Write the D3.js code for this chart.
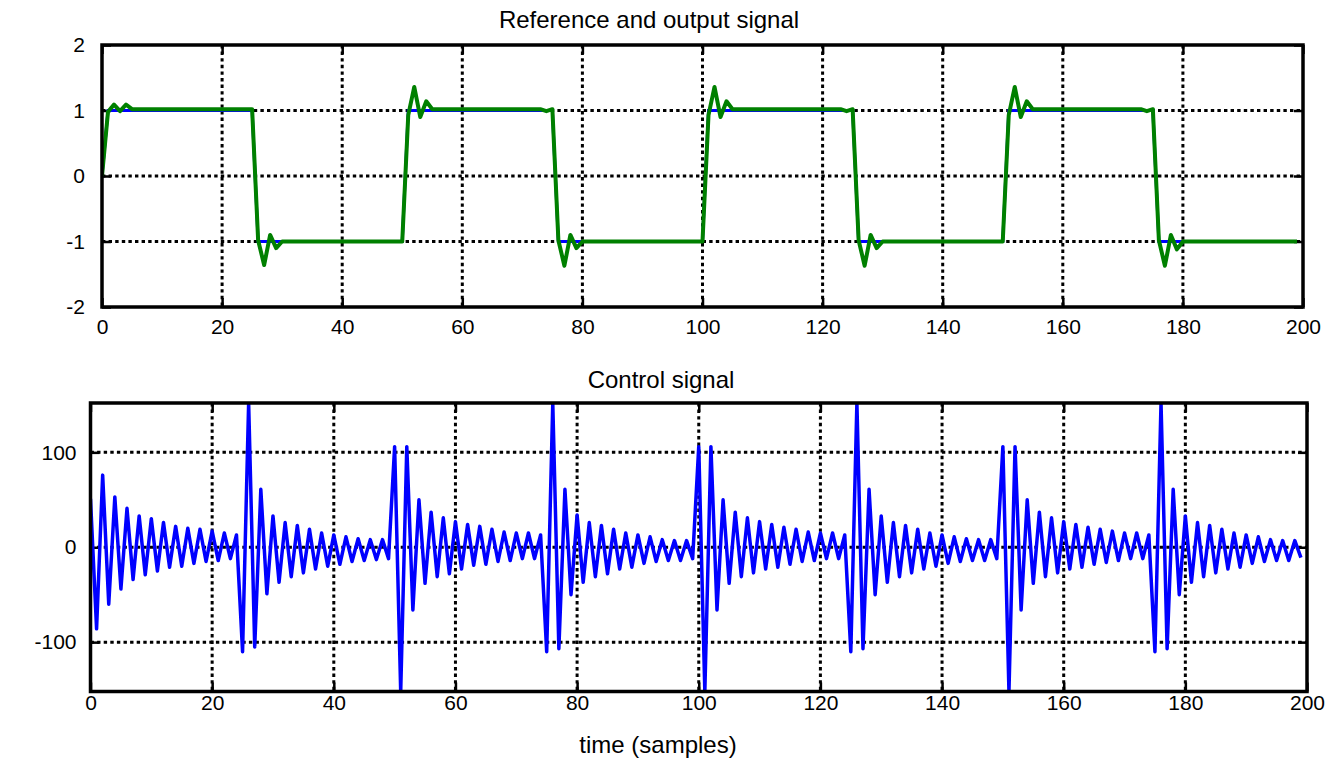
<!DOCTYPE html>
<html>
<head>
<meta charset="utf-8">
<script src="https://cdn.jsdelivr.net/npm/d3@7"></script>
<style>
  body { margin: 0; background: #fff; }
  text { font-family: "Liberation Sans", Arial, sans-serif; fill: #000; }
</style>
</head>
<body>
<div id="chart"></div>
<script>
////////////////////////////////////////////////////////////////////
////  Data (one value per sample)

var xTicks = [0, 20, 40, 60, 80, 100, 120, 140, 160, 180, 200];
var yTicksTop = [-2, -1, 0, 1, 2];
var yTicksBottom = [-100, 0, 100];

// reference signal (square wave)
var reference = [
  0, 1, 1, 1, 1, 1, 1, 1, 1, 1,
  1, 1, 1, 1, 1, 1, 1, 1, 1, 1,
  1, 1, 1, 1, 1, 1, -1, -1, -1, -1,
  -1, -1, -1, -1, -1, -1, -1, -1, -1, -1,
  -1, -1, -1, -1, -1, -1, -1, -1, -1, -1,
  -1, 1, 1, 1, 1, 1, 1, 1, 1, 1,
  1, 1, 1, 1, 1, 1, 1, 1, 1, 1,
  1, 1, 1, 1, 1, 1, -1, -1, -1, -1,
  -1, -1, -1, -1, -1, -1, -1, -1, -1, -1,
  -1, -1, -1, -1, -1, -1, -1, -1, -1, -1,
  -1, 1, 1, 1, 1, 1, 1, 1, 1, 1,
  1, 1, 1, 1, 1, 1, 1, 1, 1, 1,
  1, 1, 1, 1, 1, 1, -1, -1, -1, -1,
  -1, -1, -1, -1, -1, -1, -1, -1, -1, -1,
  -1, -1, -1, -1, -1, -1, -1, -1, -1, -1,
  -1, 1, 1, 1, 1, 1, 1, 1, 1, 1,
  1, 1, 1, 1, 1, 1, 1, 1, 1, 1,
  1, 1, 1, 1, 1, 1, -1, -1, -1, -1,
  -1, -1, -1, -1, -1, -1, -1, -1, -1, -1,
  -1, -1, -1, -1, -1, -1, -1, -1, -1, -1
];

// plant output
var output = [
  0, 0.98, 1.09, 0.99, 1.09, 1.02, 1.02, 1.02, 1.02, 1.02,
  1.02, 1.02, 1.02, 1.02, 1.02, 1.02, 1.02, 1.02, 1.02, 1.02,
  1.02, 1.02, 1.02, 1.02, 1.02, 1.02, -0.98, -1.36, -0.9, -1.1,
  -1, -1, -1, -1, -1, -1, -1, -1, -1, -1,
  -1, -1, -1, -1, -1, -1, -1, -1, -1, -1,
  -1, 0.93, 1.36, 0.9, 1.14, 1.02, 1.02, 1.02, 1.02, 1.02,
  1.02, 1.02, 1.02, 1.02, 1.02, 1.02, 1.02, 1.02, 1.02, 1.02,
  1.02, 1.02, 1.02, 1.02, 0.99, 1.02, -0.98, -1.37, -0.9, -1.1,
  -1, -1, -1, -1, -1, -1, -1, -1, -1, -1,
  -1, -1, -1, -1, -1, -1, -1, -1, -1, -1,
  -1, 0.93, 1.36, 0.9, 1.14, 1.02, 1.02, 1.02, 1.02, 1.02,
  1.02, 1.02, 1.02, 1.02, 1.02, 1.02, 1.02, 1.02, 1.02, 1.02,
  1.02, 1.02, 1.02, 1.02, 0.99, 1.02, -0.98, -1.37, -0.9, -1.1,
  -1, -1, -1, -1, -1, -1, -1, -1, -1, -1,
  -1, -1, -1, -1, -1, -1, -1, -1, -1, -1,
  -1, 0.93, 1.36, 0.9, 1.14, 1.02, 1.02, 1.02, 1.02, 1.02,
  1.02, 1.02, 1.02, 1.02, 1.02, 1.02, 1.02, 1.02, 1.02, 1.02,
  1.02, 1.02, 1.02, 1.02, 0.99, 1.02, -0.98, -1.37, -0.9, -1.12,
  -1, -1, -1, -1, -1, -1, -1, -1, -1, -1,
  -1, -1, -1, -1, -1, -1, -1, -1, -1, -1
];

// control signal
var control = [
  51, -86, 76, -60, 53, -44, 41, -34, 33, -29,
  30, -25, 26, -21, 22, -20, 20, -17, 19, -15,
  17, -14, 15, -12, 13, -110, 152, -105, 61, -49,
  33, -37, 26, -31, 23, -27, 19, -23, 15, -20,
  13, -18, 11, -15, 9, -14, 8, -13, 8, -12,
  106, -152, 106, -66, 50, -38, 37, -31, 31, -28,
  27, -23, 24, -19, 22, -18, 19, -15, 16, -14,
  15, -12, 15, -12, 13, -110, 152, -107, 61, -50,
  34, -37, 26, -31, 23, -28, 19, -23, 15, -21,
  13, -17, 11, -15, 8, -14, 7, -14, 7, -12,
  106, -152, 106, -66, 50, -38, 37, -31, 31, -27,
  27, -23, 24, -21, 21, -18, 19, -15, 16, -14,
  15, -12, 15, -12, 13, -110, 152, -107, 61, -50,
  33, -37, 26, -31, 23, -27, 19, -23, 15, -20,
  13, -17, 11, -15, 9, -14, 8, -14, 8, -12,
  106, -152, 106, -66, 50, -38, 37, -31, 31, -27,
  27, -23, 24, -21, 21, -18, 19, -16, 17, -14,
  15, -12, 15, -12, 13, -110, 152, -107, 61, -50,
  33, -37, 26, -31, 23, -27, 19, -23, 15, -21,
  13, -17, 11, -15, 8, -14, 7, -14, 7, -11
];

var samples = d3.range(reference.length);

////////////////////////////////////////////////////////////////////
////  Figure

var svg = d3.select("#chart")
  .append("svg")
    .attr("width", 1326)
    .attr("height", 758);

svg.append("rect")
  .attr("width", 1326)
  .attr("height", 758)
  .attr("fill", "#fff");

// plain "-2" style labels (matlab uses a hyphen, not the unicode minus)
var plainFmt = function(d) { return String(d); };

// draws one subplot box with grid, ticks and labels, returns the scales
function drawPanel(id, box, yDomain, yTicks) {
  var w = box.right - box.left,
      h = box.bottom - box.top;

  var x = d3.scaleLinear().domain([0, 200]).range([0, w]);
  var y = d3.scaleLinear().domain(yDomain).range([h, 0]);

  var g = svg.append("g")
    .attr("transform", "translate(" + box.left + "," + box.top + ")");

  g.append("clipPath")
    .attr("id", id)
    .append("rect")
      .attr("width", w)
      .attr("height", h);

  // dotted grid
  var grid = g.append("g").attr("class", "grid");
  grid.selectAll("line.gx")
    .data(xTicks.slice(1, -1))
    .enter().append("line")
      .attr("class", "gx")
      .attr("x1", function(d) { return x(d); })
      .attr("x2", function(d) { return x(d); })
      .attr("y1", 0)
      .attr("y2", h);
  grid.selectAll("line.gy")
    .data(yTicks.filter(function(d) { return d > yDomain[0] && d < yDomain[1]; }))
    .enter().append("line")
      .attr("class", "gy")
      .attr("x1", 0)
      .attr("x2", w)
      .attr("y1", function(d) { return y(d); })
      .attr("y2", function(d) { return y(d); });
  grid.selectAll("line")
    .attr("stroke", "#000")
    .attr("stroke-width", 3)
    .attr("stroke-dasharray", "3.4,3.2");

  // axes with inward ticks on all four sides
  var xAxis = d3.axisBottom(x).tickValues(xTicks).tickFormat(plainFmt)
    .tickSize(-9).tickPadding(box.xPad);
  var yAxis = d3.axisLeft(y).tickValues(yTicks).tickFormat(plainFmt)
    .tickSize(-9).tickPadding(box.yPad);

  g.append("g")
    .attr("transform", "translate(0," + h + ")")
    .call(xAxis);
  g.append("g")
    .call(yAxis);
  g.append("g")
    .call(d3.axisTop(x).tickValues(xTicks).tickSize(-9).tickFormat(""));
  g.append("g")
    .attr("transform", "translate(" + w + ",0)")
    .call(d3.axisRight(y).tickValues(yTicks).tickSize(-9).tickFormat(""));

  g.selectAll(".domain").remove();
  g.selectAll(".tick line").attr("stroke", "#000").attr("stroke-width", 2.5);
  g.selectAll(".tick text")
    .style("font-size", "21px")
    .style("font-family", "'Liberation Sans', Arial, sans-serif")
    .attr("fill", "#000");

  var plot = g.append("g").attr("clip-path", "url(#" + id + ")");

  // frame drawn last
  g.append("rect")
    .attr("width", w)
    .attr("height", h)
    .attr("fill", "none")
    .attr("stroke", "#000")
    .attr("stroke-width", 3.5);

  return { x: x, y: y, plot: plot, g: g };
}

////  Top: reference and output
var upper = drawPanel("clipTop",
  { left: 102, right: 1303, top: 45, bottom: 307, xPad: 12, yPad: 17 },
  [-2, 2], yTicksTop);

var lineTop = d3.line()
  .x(function(d) { return upper.x(d[0]); })
  .y(function(d) { return upper.y(d[1]); });

upper.plot.append("path")
  .datum(d3.zip(samples, reference))
  .attr("fill", "none")
  .attr("stroke", "#0000ff")
  .attr("stroke-width", 3)
  .attr("d", lineTop);

upper.plot.append("path")
  .datum(d3.zip(samples, output))
  .attr("fill", "none")
  .attr("stroke", "#008000")
  .attr("stroke-width", 4)
  .attr("stroke-linejoin", "round")
  .attr("d", lineTop);

////  Bottom: control signal
var lower = drawPanel("clipBottom",
  { left: 90.5, right: 1307, top: 403, bottom: 691.5, xPad: 4, yPad: 14 },
  [-152, 152], yTicksBottom);

lower.plot.append("path")
  .datum(d3.zip(samples, control))
  .attr("fill", "none")
  .attr("stroke", "#0000ff")
  .attr("stroke-width", 3.5)
  .attr("stroke-linejoin", "round")
  .attr("d", d3.line()
      .x(function(d) { return lower.x(d[0]); })
      .y(function(d) { return lower.y(d[1]); }));

////  Titles
svg.append("text")
  .attr("x", 649).attr("y", 28)
  .attr("text-anchor", "middle")
  .style("font-size", "24px")
  .text("Reference and output signal");

svg.append("text")
  .attr("x", 661).attr("y", 388)
  .attr("text-anchor", "middle")
  .style("font-size", "24px")
  .text("Control signal");

svg.append("text")
  .attr("x", 658).attr("y", 753)
  .attr("text-anchor", "middle")
  .style("font-size", "24px")
  .text("time (samples)");
</script>
</body>
</html>
